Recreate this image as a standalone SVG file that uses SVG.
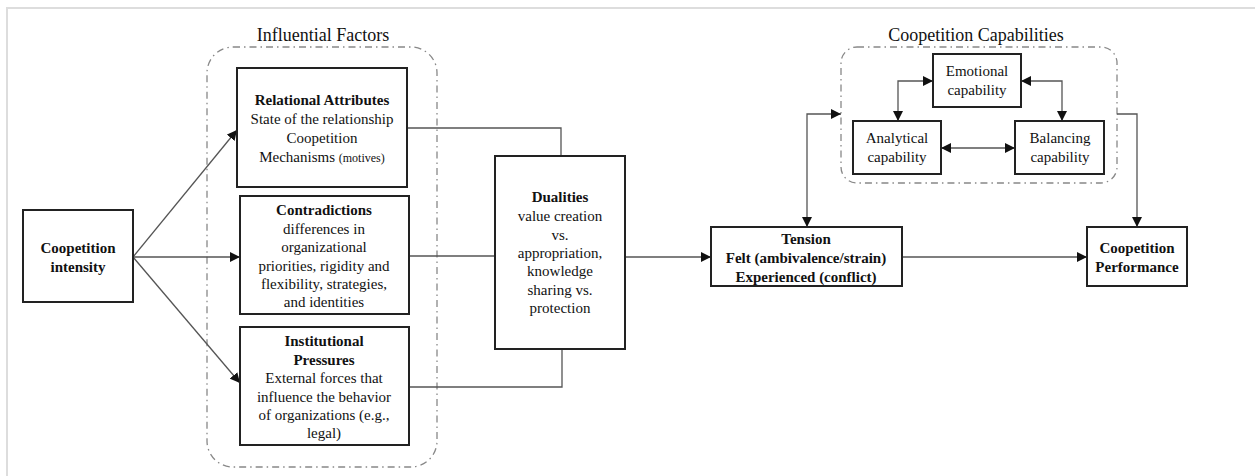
<svg xmlns="http://www.w3.org/2000/svg" width="1255" height="476" viewBox="0 0 1255 476">
  <defs>
    <marker id="arrow" viewBox="0 0 10 10" refX="10" refY="5" markerWidth="10" markerHeight="10" markerUnits="userSpaceOnUse" orient="auto-start-reverse">
      <path d="M0,0 L10,5 L0,10 z" fill="#111"/>
    </marker>
  </defs>
  <style>
    text { font-family: 'Liberation Serif', 'DejaVu Serif', serif; font-size: 15px; fill: #111; text-anchor: middle; }
    .b { font-weight: bold; }
    .sm { font-size: 12px; }
    .title { font-size: 18px; }
    .box { fill: #fff; stroke: #222; stroke-width: 2; }
    .group { fill: none; stroke: #888; stroke-width: 1.3; stroke-dasharray: 7 4 1.5 4; }
    .link { fill: none; stroke: #555; stroke-width: 1.3; }
    .frame { fill: none; stroke: #ddd; stroke-width: 2; }
  </style>

  <rect width="1255" height="476" fill="#fff"/>
  <path class="frame" d="M7,476 V8 H1255"/>

  <!-- grouping outlines -->
  <g id="influential-factors">
    <rect class="group" x="207" y="47" width="230" height="420" rx="26"/>
    <text class="title" x="323" y="41">Influential Factors</text>
  </g>
  <g id="coopetition-capabilities">
    <rect class="group" x="841" y="47" width="276" height="136" rx="16"/>
    <text class="title" x="976" y="41">Coopetition Capabilities</text>
  </g>

  <!-- connectors -->
  <g id="connectors">
    <line class="link" x1="133" y1="257" x2="237" y2="130" marker-end="url(#arrow)"/>
    <line class="link" x1="133" y1="257" x2="240" y2="257" marker-end="url(#arrow)"/>
    <line class="link" x1="133" y1="257" x2="240" y2="383" marker-end="url(#arrow)"/>
    <polyline class="link" points="407,128 561,128 561,156"/>
    <line class="link" x1="409" y1="256" x2="495" y2="256"/>
    <polyline class="link" points="409,387 562,387 562,349"/>
    <line class="link" x1="625" y1="257" x2="711" y2="257" marker-end="url(#arrow)"/>
    <line class="link" x1="902" y1="257" x2="1087" y2="257" marker-end="url(#arrow)"/>
    <polyline class="link" points="807,227 807,114 841,114" marker-start="url(#arrow)" marker-end="url(#arrow)"/>
    <polyline class="link" points="1117,114 1137,114 1137,227" marker-end="url(#arrow)"/>
    <polyline class="link" points="933,81 898,81 898,121" marker-start="url(#arrow)" marker-end="url(#arrow)"/>
    <polyline class="link" points="1021,81 1062,81 1062,121" marker-start="url(#arrow)" marker-end="url(#arrow)"/>
    <line class="link" x1="941" y1="148" x2="1015" y2="148" marker-start="url(#arrow)" marker-end="url(#arrow)"/>
  </g>

  <!-- nodes -->
  <g id="coopetition-intensity">
    <rect class="box" x="23" y="210" width="110" height="92"/>
    <text class="b" x="78" y="253">Coopetition</text>
    <text class="b" x="78" y="272">intensity</text>
  </g>

  <g id="relational-attributes">
    <rect class="box" x="237" y="68" width="170" height="119"/>
    <text class="b" x="322" y="105">Relational Attributes</text>
    <text x="322" y="124">State of the relationship</text>
    <text x="322" y="143">Coopetition</text>
    <text x="322" y="162">Mechanisms <tspan class="sm">(motives)</tspan></text>
  </g>

  <g id="contradictions">
    <rect class="box" x="240" y="196" width="169" height="118"/>
    <text class="b" x="324" y="215">Contradictions</text>
    <text x="324" y="234">differences in</text>
    <text x="324" y="252">organizational</text>
    <text x="324" y="271">priorities, rigidity and</text>
    <text x="324" y="289">flexibility, strategies,</text>
    <text x="324" y="307">and identities</text>
  </g>

  <g id="institutional-pressures">
    <rect class="box" x="240" y="327" width="169" height="118"/>
    <text class="b" x="324" y="346">Institutional</text>
    <text class="b" x="324" y="365">Pressures</text>
    <text x="324" y="383">External forces that</text>
    <text x="324" y="402">influence the behavior</text>
    <text x="324" y="420">of organizations (e.g.,</text>
    <text x="324" y="438">legal)</text>
  </g>

  <g id="dualities">
    <rect class="box" x="495" y="156" width="130" height="193"/>
    <text class="b" x="560" y="202">Dualities</text>
    <text x="560" y="221">value creation</text>
    <text x="560" y="240">vs.</text>
    <text x="560" y="258">appropriation,</text>
    <text x="560" y="276">knowledge</text>
    <text x="560" y="295">sharing vs.</text>
    <text x="560" y="313">protection</text>
  </g>

  <g id="tension">
    <rect class="box" x="711" y="227" width="191" height="59"/>
    <text class="b" x="806" y="244">Tension</text>
    <text class="b" x="806" y="263">Felt (ambivalence/strain)</text>
    <text class="b" x="806" y="282">Experienced (conflict)</text>
  </g>

  <g id="coopetition-performance">
    <rect class="box" x="1087" y="227" width="100" height="59"/>
    <text class="b" x="1137" y="253">Coopetition</text>
    <text class="b" x="1137" y="272">Performance</text>
  </g>

  <g id="emotional-capability">
    <rect class="box" x="933" y="54" width="88" height="53"/>
    <text x="977" y="76">Emotional</text>
    <text x="977" y="95">capability</text>
  </g>

  <g id="analytical-capability">
    <rect class="box" x="853" y="121" width="88" height="53"/>
    <text x="897" y="143">Analytical</text>
    <text x="897" y="162">capability</text>
  </g>

  <g id="balancing-capability">
    <rect class="box" x="1015" y="121" width="89" height="53"/>
    <text x="1060" y="143">Balancing</text>
    <text x="1060" y="162">capability</text>
  </g>
</svg>
